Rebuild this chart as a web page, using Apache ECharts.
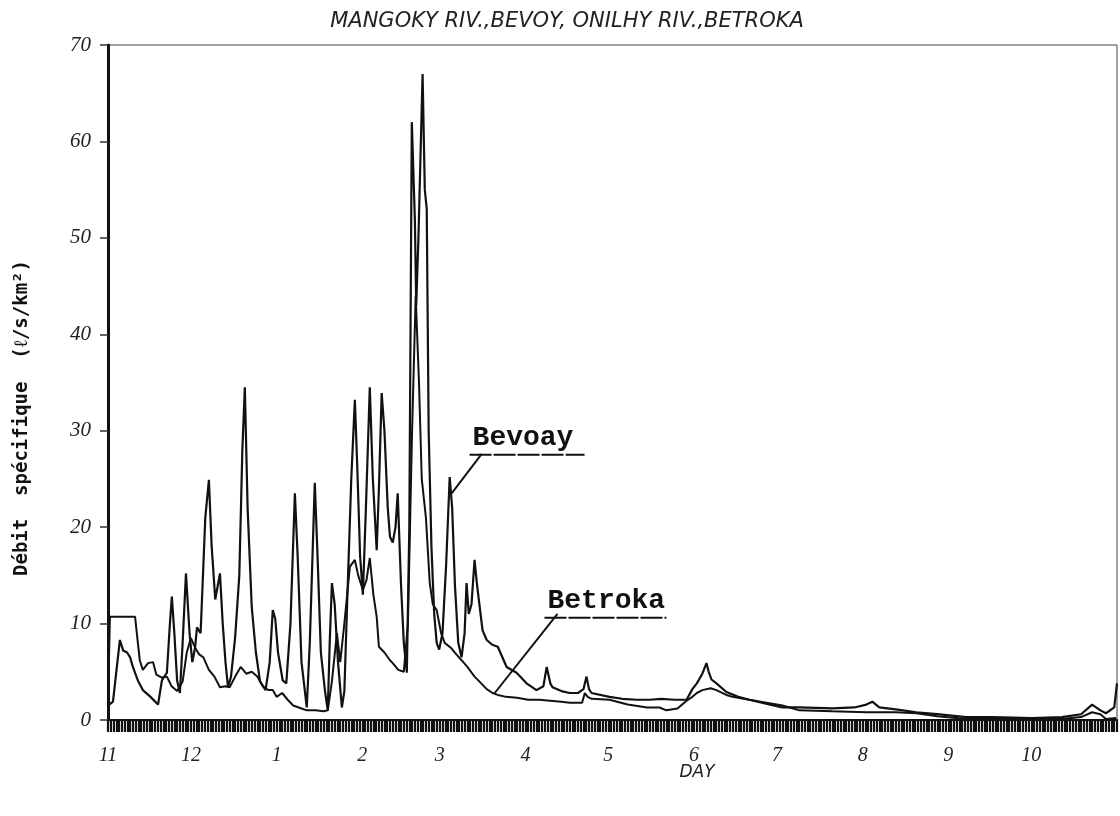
<!DOCTYPE html>
<html>
<head>
<meta charset="utf-8">
<title>Mangoky / Onilahy</title>
<script src="https://cdn.jsdelivr.net/npm/echarts@6/dist/echarts.min.js"></script>
<style>
html,body{margin:0;padding:0;background:#fff;}
#chart{width:1120px;height:816px;}
</style>
</head>
<body>
<div id="chart"></div>
<script>
// day 0 = 1 November, hydrological year Nov -> Oct
const monthStart = [0, 30, 61, 92, 120, 151, 181, 212, 242, 273, 304, 334];
const monthLabel = ['11', '12', '1', '2', '3', '4', '5', '6', '7', '8', '9', '10'];

// [day, l/s/km2]
const bevoay = [
  [0,1.5],[1.8,1.9],[4.3,8.3],[5.5,7.2],[6.9,7.0],[8,6.5],[9,5.5],[10.8,4.1],[12.6,3.1],[15,2.5],
  [18.1,1.6],[19.5,4.1],[21.3,4.9],[22.4,10],[23.1,12.8],[24,9],[25,4.1],[26,2.8],[27,8],[28.2,15.2],
  [29.5,9],[30.5,6],[31.5,7.5],[32.2,9.6],[33.5,9.0],[35.2,21],[36.5,24.9],[37.5,18],[38.8,12.5],[40.5,15.2],
  [41.5,10],[42.5,6],[43.4,3.4],[44.5,4.5],[46,8.6],[47.5,15],[48.6,28],[49.5,34.5],[50.5,22],[52,11.7],
  [53.5,7],[55,4],[57,3.1],[58.5,6],[59.6,11.4],[60.5,10.5],[61.5,7],[63.2,4.1],[64.5,3.8],[66,10],
  [67.6,23.5],[68.6,17],[70,6],[71.9,1.3],[73,8],[74.8,24.6],[75.8,17],[77,7],[78.5,3],[79.5,1.0],
  [80.2,8],[81,14.2],[82,12],[83.2,6],[84.6,1.3],[85.5,3],[86.5,12],[88,25],[89.3,33.2],[90.2,26],
  [91.2,17],[92.2,13],[93.3,22],[94.7,34.5],[95.8,25],[97.2,17.6],[98,24],[99,33.9],[100,30],[101.2,22],
  [102,19],[103,18.4],[104,20],[104.8,23.5],[106,14],[107,8],[108.1,4.9],[109,20],[109.9,62],[111,52],
  [111.5,43],[112.3,50],[113.8,67],[114.6,55],[115.3,53],[116,30],[117,18],[118,11],[118.9,8],[119.8,7.3],
  [121,9],[122.3,16],[123.6,25.2],[124.5,22],[125.5,14],[126.7,8],[127.9,6.5],[129,9],[129.7,14.2],[130.5,11],
  [131.5,12],[132.6,16.6],[133.5,14],[135.5,9.3],[137,8.3],[139,7.8],[141,7.6],[144.2,5.5],[147.8,4.9],[151.4,3.8],
  [155,3.1],[157.5,3.5],[158.7,5.5],[160,3.8],[160.8,3.4],[164,3.0],[167,2.8],[170,2.8],[172,3.2],[173.1,4.5],
  [174,3.2],[174.9,2.8],[181.4,2.4],[186,2.2],[191.2,2.1],[196,2.1],[200,2.2],[205,2.1],[209.3,2.1],[211.4,3.2],
  [213,3.8],[215,4.8],[216.5,5.9],[217.3,5.0],[218.3,4.2],[220.1,3.8],[223.7,2.9],[228,2.4],[232,2.1],[238,1.7],
  [243.9,1.3],[250,1.3],[262,1.2],[270,1.3],[274.3,1.6],[276.5,1.9],[279,1.3],[285,1.1],[292.4,0.8],[300,0.6],
  [310.4,0.3],[320,0.3],[334.3,0.2],[345,0.3],[352,0.6],[356,1.6],[359,1.0],[361,0.7],[364,1.3],[365,3.8]
];

const betroka = [
  [0,2.0],[0.7,10.7],[9.8,10.7],[10.8,8.0],[11.5,6.2],[12.6,5.2],[14.5,5.9],[16.3,6.0],[17.5,4.7],[19.5,4.4],
  [21.3,4.5],[23,3.5],[25,3.0],[27,4.0],[28.5,7.0],[30,8.5],[31.5,7.5],[33,6.8],[34.5,6.5],[36.5,5.2],
  [38.5,4.5],[40.5,3.4],[42.5,3.5],[44,3.4],[46,4.5],[48,5.5],[50,4.8],[52,5.0],[54,4.5],[56,3.5],
  [58,3.1],[59.6,3.1],[61,2.4],[63,2.8],[65,2.1],[67,1.5],[69,1.3],[71.9,1.0],[75,1.0],[78,0.9],
  [79.5,1.0],[81,4],[82.8,9.0],[84,6],[85.5,10],[87.5,15.9],[89.3,16.6],[90.5,15],[92.2,13.5],[93.5,14.5],
  [94.7,16.8],[96,13],[97.2,10.7],[98,7.6],[100,7.0],[102,6.2],[103,5.9],[105,5.2],[107,5.0],[108.5,10],
  [110,30],[111.3,44],[112.5,35],[113.5,25],[115,21],[116.4,14.2],[117.5,12],[118.9,11.4],[120.5,9],[121.8,8.0],
  [124,7.5],[126,6.8],[127.9,6.2],[130,5.5],[132.6,4.5],[135,3.8],[137,3.2],[139.1,2.8],[141,2.6],[144,2.4],
  [148,2.3],[152,2.1],[156,2.1],[160,2.0],[164,1.9],[167,1.8],[170,1.8],[171.5,1.8],[172.5,2.8],[173.5,2.4],
  [175,2.2],[181.4,2.1],[188,1.6],[195,1.3],[199.5,1.3],[202,1.0],[206,1.2],[209.3,2.0],[211.4,2.4],[213,2.8],
  [215,3.1],[218,3.3],[220.1,3.1],[223.7,2.6],[225.9,2.4],[232,2.1],[238.2,1.8],[244,1.5],[250.1,1.0],[262,0.9],
  [274.3,0.8],[285,0.8],[292.4,0.7],[300,0.4],[310.4,0.1],[320,0.1],[334.3,0.1],[345,0.1],[352,0.3],[356,0.8],
  [359,0.6],[361,0.1],[364.7,0.2]
];

// label anchors in data units: [tail on curve, elbow at underline, underline start/end/level]
const bevoayNote = [[124.3, 23.5], [135.2, 27.6], [130.8, 172.4, 27.5]];
const betrokaNote = [[139.9, 2.8], [162.6, 11.0], [157.9, 202.0, 10.6]];

const chart = echarts.init(document.getElementById('chart'));
const ink = '#111';
const italicFont = "'Liberation Serif', serif";

chart.setOption({
  animation: false,
  backgroundColor: '#fff',
  title: {
    text: 'MANGOKY RIV.,BEVOY, ONILHY RIV.,BETROKA',
    left: 562, top: 6, textAlign: 'center',
    textStyle: { fontFamily: "'DejaVu Sans', sans-serif", fontStyle: 'italic', fontWeight: 'normal', fontSize: 21, color: '#222' }
  },
  grid: { left: 108, right: 3, top: 45, bottom: 96, show: true, borderColor: '#444', borderWidth: 1 },
  xAxis: [{
    type: 'value', min: 0, max: 365,
    axisLine: { show: true, lineStyle: { color: ink, width: 2 } },
    axisTick: { show: false },
    splitLine: { show: false },
    axisLabel: {
      customValues: monthStart,
      margin: 26,
      fontFamily: italicFont, fontStyle: 'italic', fontSize: 20, color: '#222',
      formatter: v => monthLabel[monthStart.indexOf(v)]
    }
  }, {
    // the daily tick band under the axis
    type: 'value', min: 0, max: 365, interval: 1, position: 'bottom',
    axisLine: { show: false },
    axisLabel: { show: false },
    splitLine: { show: false },
    axisTick: { show: true, length: 12, lineStyle: { color: ink, width: 2.2 } }
  }],
  yAxis: [{
    type: 'value', min: 0, max: 70, interval: 10,
    axisLine: { show: true, lineStyle: { color: ink, width: 3 } },
    axisTick: { show: false },
    axisLabel: { show: false },
    splitLine: { show: false }
  }, {
    type: 'value', min: 0, max: 70, interval: 10, position: 'left', offset: 7,
    axisLine: { show: false },
    axisTick: { show: true, length: 8, lineStyle: { color: '#333', width: 1.5 } },
    axisLabel: { margin: 10, fontFamily: italicFont, fontStyle: 'italic', fontSize: 21, color: '#222' },
    splitLine: { show: false }
  }],
  series: [{
    name: 'Bevoay', type: 'line', data: bevoay, symbol: 'none',
    lineStyle: { color: ink, width: 2.2 }
  }, {
    name: 'Betroka', type: 'line', data: betroka, symbol: 'none',
    lineStyle: { color: ink, width: 2 }
  }]
});

// annotations placed through the axes
function note(text, spec) {
  const a = chart.convertToPixel({ gridIndex: 0 }, spec[0]);
  const b = chart.convertToPixel({ gridIndex: 0 }, spec[1]);
  const u0 = chart.convertToPixel({ gridIndex: 0 }, [spec[2][0], spec[2][2]]);
  const u1 = chart.convertToPixel({ gridIndex: 0 }, [spec[2][1], spec[2][2]]);
  return [{
    type: 'line', shape: { x1: a[0], y1: a[1], x2: b[0], y2: b[1] },
    style: { stroke: ink, lineWidth: 2 }
  }, {
    type: 'line', shape: { x1: u0[0], y1: u0[1], x2: u1[0], y2: u1[1] },
    style: { stroke: ink, lineWidth: 2, lineDash: [22, 2] }
  }, {
    type: 'text', x: u0[0] + 3, y: u0[1] - 3,
    style: { text: text, fill: ink, font: "bold 28px 'Liberation Mono', monospace", textAlign: 'left', textVerticalAlign: 'bottom' }
  }];
}

chart.setOption({
  graphic: [
    ...note('Bevoay', bevoayNote),
    ...note('Betroka', betrokaNote),
    {
      type: 'text', x: 22, y: 418, rotation: Math.PI / 2,
      style: { text: 'Débit  spécifique  (ℓ/s/km²)', fill: ink, font: "bold 19px 'DejaVu Sans Mono', monospace", textAlign: 'center', textVerticalAlign: 'middle' }
    },
    {
      type: 'text', x: 697, y: 773,
      style: { text: 'DAY', fill: '#222', font: "italic 17px 'DejaVu Sans', sans-serif", textAlign: 'center', textVerticalAlign: 'middle' }
    }
  ]
});

window.addEventListener('resize', () => { chart.resize(); });
</script>
</body>
</html>
